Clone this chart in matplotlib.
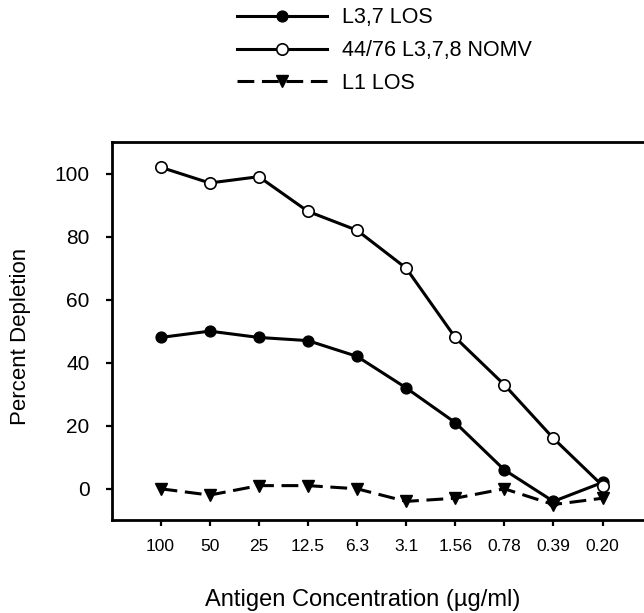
import matplotlib
matplotlib.use("Agg")
import matplotlib.pyplot as plt

plt.rcParams['font.family'] = ['Liberation Sans', 'DejaVu Sans']

concentrations = ["100", "50", "25", "12.5", "6.3", "3.1", "1.56", "0.78", "0.39", "0.20"]
l37_los = [48, 50, 48, 47, 42, 32, 21, 6, -4, 2]
nomv_4476 = [102, 97, 99, 88, 82, 70, 48, 33, 16, 1]
l1_los = [0, -2, 1, 1, 0, -4, -3, 0, -5, -3]
series_labels = ["L3,7 LOS", "44/76 L3,7,8 NOMV", "L1 LOS"]
y_ticks = [0, 20, 40, 60, 80, 100]

W, H = 644, 613
fig = plt.figure(figsize=(W / 100, H / 100), dpi=100)
ax = fig.add_axes([111.5 / W, 1 - 520.3 / H, 540.1 / W, (520.3 - 142) / H])

x = list(range(len(concentrations)))
lw = 2.2
h1, = ax.plot(x, l37_los, color='black', lw=lw, marker='o', ms=7.8,
              mfc='black', mec='black', zorder=3)
h2, = ax.plot(x, nomv_4476, color='black', lw=lw, marker='o', ms=8.2,
              mfc='white', mec='black', mew=1.2, zorder=3)
h3, = ax.plot(x, l1_los, color='black', lw=lw, marker='v', ms=8.5,
              mfc='black', mec='black', dashes=(5.5, 2.5), zorder=2)

ax.set_xlim(-1, 10)
ax.set_ylim(-10, 110)
ax.set_xticks(x)
ax.set_xticklabels(concentrations)
ax.set_yticks(y_ticks)

for s in ['left', 'bottom', 'top']:
    ax.spines[s].set_linewidth(2.0)
ax.spines['right'].set_visible(False)

ax.tick_params(axis='both', which='major', direction='out', length=4.3,
               width=1.6, color='black')
ax.tick_params(axis='x', labelsize=12.5, pad=9.5, top=False)
ax.tick_params(axis='y', labelsize=15, pad=11.5, right=False)

fig.text(21 / W, 1 - 336 / H, "Percent Depletion", rotation=90,
         ha='center', va='center', fontsize=16)
fig.text(363 / W, 1 - 606 / H, "Antigen Concentration (µg/ml)",
         ha='center', va='baseline', fontsize=17)

fig.legend([h1, h2, h3], series_labels, loc='upper left',
           bbox_to_anchor=(236.7 / W, 1 - 7.5 / H), frameon=False,
           fontsize=15.5, handlelength=4.2, handletextpad=0.7,
           labelspacing=0.54, borderpad=0, borderaxespad=0)

fig.savefig("out.png", dpi=100)
